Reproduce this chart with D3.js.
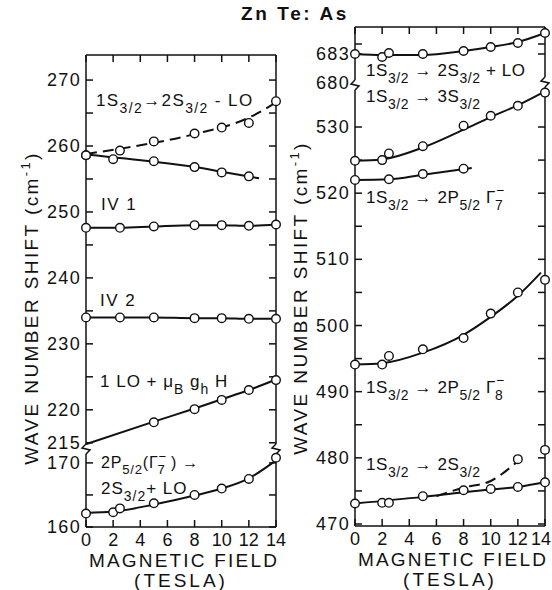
<!DOCTYPE html>
<html><head><meta charset="utf-8">
<script src="https://cdn.jsdelivr.net/npm/d3@7"></script>
<style>body{margin:0;background:#fff}svg{display:block}</style>
</head><body>
<svg id="c" width="552" height="590"></svg>
<script>
// ---------------- DATA ----------------
const xTicks = [0,2,4,6,8,10,12,14];
const xTickLabels = ["0","2","4","6","8","10","12","14"];

// Left panel, upper segment (cm^-1)
const lDashX = [0,2.5,5,8,10,12,14];
const lDashY = [258.6,259.3,260.7,261.9,262.8,263.5,266.8];
const lDashFitX = [0,4,8,12,14];
const lDashFitY = [258.8,260.1,261.8,264.3,266.6];
const lDownX = [0,2,5,8,10,12];
const lDownY = [258.6,258.0,257.7,256.8,256.0,255.4];
const lDownFitX = [0,5,8,10,12.75];
const lDownFitY = [258.7,257.6,256.8,256.1,255.1];
const iv1X = [0,2.5,5,8,10,12,14];
const iv1Y = [247.6,247.6,247.8,248.0,248.0,247.9,248.1];
const iv2X = [0,2.5,5,8,10,12,14];
const iv2Y = [234.0,234.0,234.0,233.9,233.9,233.8,233.8];
const loX = [5,8,10,12,14];
const loY = [218.1,220.1,221.5,223.0,224.5];
const loFitX = [0,5,8,10,12,14];
const loFitY = [214.8,218.2,220.2,221.6,223.0,224.6];
// Left panel, lower segment
const p7X = [0,2,2.5,5,8,10,12,14];
const p7Y = [162.1,162.3,162.9,163.7,165.0,166.0,167.5,170.8];
const p7FitX = [0,2,5,8,10,12,14];
const p7FitY = [162.2,162.4,163.5,164.9,166.0,167.6,170.4];

// Right panel, upper segment
const r683X = [0,2,2.5,5,8,10,12,14];
const r683Y = [683.0,682.7,683.1,683.0,683.3,683.7,684.1,685.1];
const r683FitX = [0,2,5,8,10,12,14];
const r683FitY = [683.0,682.9,682.9,683.3,683.7,684.2,685.1];
// Right panel, lower segment
const s3X = [0,2,2.5,5,8,10,12,14];
const s3Y = [524.9,525.0,526.0,527.1,530.2,531.7,533.2,535.2];
const s3FitX = [0,2,5,8,10,12,14];
const s3FitY = [524.9,525.1,526.9,529.6,531.5,533.3,535.4];
const g7X = [0,2.5,5,8];
const g7Y = [522.0,522.1,522.9,523.7];
const g7FitX = [0,2.5,5,8.6];
const g7FitY = [522.0,522.1,522.8,523.8];
const g8X = [0,2,2.5,5,8,10,12,14];
const g8Y = [494.1,494.1,495.4,496.4,498.1,501.8,505.0,506.9];
const g8FitX = [0,2,5,8,10,12,13.7];
const g8FitY = [494.1,494.3,495.9,498.6,501.3,504.5,508.0];
const s2X = [0,2,2.5,5,8,10,12,14];
const s2Y = [473.1,473.2,473.2,474.2,475.1,475.3,475.6,476.3];
const s2FitX = [0,5,8,10,12,14];
const s2FitY = [473.1,474.1,474.8,475.2,475.6,476.3];
const s2DashX = [12,14];
const s2DashY = [479.8,481.2];
const s2DashFitX = [6,8,10,11.6,12];
const s2DashFitY = [474.2,475.5,476.5,478.8,479.5];

const lUpperTicks = [215,220,225,230,235,240,245,250,255,260,265,270];
const lUpperLabels = [215,220,230,240,250,260,270];
const lLowerTicks = [160,165,170];
const lLowerLabels = [160,170];
const rUpperTicks = [683,684];
const rUpperLabels = [683];
const rLowerTicks = [470,475,480,485,490,495,500,505,510,515,520,525,530];
const rLowerLabels = [470,480,490,500,510,520,530];

// ---------------- DRAW ----------------
const svg = d3.select("#c");
const FONT = "'Liberation Sans', Arial, sans-serif";

const xL = d3.scaleLinear([0,14],[86,276]);
const xR = d3.scaleLinear([0,14],[355,545]);
const yLU = d3.scaleLinear([213.6,273.8],[452,55]);
const yLL = d3.scaleLinear([160,171.7],[527,452]);
const yRU = d3.scaleLinear([680,685.7],[84,27]);
const yRL = d3.scaleLinear([470,536.5],[524,84]);

const zip = (xs,ys)=>xs.map((x,i)=>[x,ys[i]]);

function curve(x,y,xs,ys,dash){
  const line = d3.line().x(d=>x(d[0])).y(d=>y(d[1])).curve(d3.curveMonotoneX);
  svg.append("path").attr("d",line(zip(xs,ys))).attr("fill","none")
    .attr("stroke","#111").attr("stroke-width",2)
    .attr("stroke-dasharray",dash?"11,6":null);
}
function pts(x,y,xs,ys){
  svg.append("g").selectAll("circle").data(zip(xs,ys)).join("circle")
    .attr("cx",d=>x(d[0])).attr("cy",d=>y(d[1])).attr("r",4.3)
    .attr("fill","#fff").attr("stroke","#111").attr("stroke-width",1.4);
}

// rich text: _{..} subscript, ^{..} superscript (a sub right after a sup is stacked)
function rich(x,y,str,size,ls){
  const t = svg.append("text").attr("x",x).attr("y",y)
    .attr("font-family",FONT).attr("font-size",size).attr("fill","#111")
    .attr("letter-spacing",ls==null?1:ls);
  const re = /([_^])\{([^}]*)\}|([^_^]+)/g; let m, shift=0, lastSup=null;
  while((m=re.exec(str))){
    if(m[3]!==undefined){
      t.append("tspan").attr("dy",-shift).attr("font-size",size).text(m[3]); shift=0; lastSup=null;
    } else {
      const s = m[1]==="_"? size*0.4 : -size*0.45;
      const sp = t.append("tspan").attr("dy",s-shift).attr("font-size",size*0.82).text(m[2]);
      if(m[1]==="_" && lastSup){
        sp.attr("dx",-lastSup.node().getComputedTextLength()-1);
      }
      lastSup = m[1]==="^"? sp : null;
      shift=s;
    }
  }
  return t;
}

function panel(x, yU, yL, breakYLeft, breakYRight, top, bottom, uT, uL, lT, lL, lastRight){
  const x0=x.range()[0], x1=x.range()[1];
  const g = svg.append("g").attr("stroke","#111").attr("stroke-width",1.5).attr("fill","none");
  g.append("line").attr("x1",x0).attr("x2",x1).attr("y1",top).attr("y2",top);
  g.append("line").attr("x1",x0).attr("x2",x1).attr("y1",bottom).attr("y2",bottom);
  [[x0,breakYLeft],[x1,breakYRight]].forEach(([xx,by])=>{
    g.append("line").attr("x1",xx).attr("x2",xx).attr("y1",top).attr("y2",by-5);
    g.append("line").attr("x1",xx).attr("x2",xx).attr("y1",by+5).attr("y2",bottom);
    g.append("path").attr("d",`M${xx},${by-5} L${xx-4},${by-1} L${xx+4},${by+1} L${xx},${by+5}`);
  });
  xTicks.forEach(v=>{
    g.append("line").attr("x1",x(v)).attr("x2",x(v)).attr("y1",top).attr("y2",top+7);
    g.append("line").attr("x1",x(v)).attr("x2",x(v)).attr("y1",bottom).attr("y2",bottom-7);
  });
  const yt = (y,ticks)=>ticks.forEach(v=>{
    g.append("line").attr("x1",x0).attr("x2",x0+7).attr("y1",y(v)).attr("y2",y(v));
    g.append("line").attr("x1",x1).attr("x2",x1-7).attr("y1",y(v)).attr("y2",y(v));
  });
  yt(yU,uT); yt(yL,lT);
  const lab = (y,labels)=>labels.forEach(v=>{
    svg.append("text").attr("x",x0-5).attr("y",y(v)+6).attr("text-anchor","end")
      .attr("font-family",FONT).attr("font-size",18).attr("letter-spacing",1.3).attr("fill","#111").text(v);
  });
  lab(yU,uL); lab(yL,lL);
  xTicks.forEach((v,i)=>{
    const last = lastRight && i===xTicks.length-1;
    svg.append("text").attr("x",last?551:x(v)).attr("y",bottom+19)
      .attr("text-anchor",last?"end":"middle")
      .attr("font-family",FONT).attr("font-size",18).attr("fill","#111").text(xTickLabels[i]);
  });
  const cx=(x0+x1)/2+3;
  svg.append("text").attr("x",cx).attr("y",bottom+40).attr("text-anchor","middle")
    .attr("font-family",FONT).attr("font-size",19).attr("letter-spacing",2.2).attr("fill","#111").text("MAGNETIC FIELD");
  svg.append("text").attr("x",cx-3).attr("y",bottom+60).attr("text-anchor","middle")
    .attr("font-family",FONT).attr("font-size",19).attr("letter-spacing",3).attr("fill","#111").text("(TESLA)");
}

panel(xL, yLU, yLL, 449, 449, 55, 527, lUpperTicks, lUpperLabels, lLowerTicks, lLowerLabels, false);
panel(xR, yRU, yRL, 85, 82, 27, 526, rUpperTicks, rUpperLabels, rLowerTicks, rLowerLabels, true);
svg.append("text").attr("x",350).attr("y",89).attr("text-anchor","end")
  .attr("font-family",FONT).attr("font-size",18).attr("letter-spacing",1.3).attr("fill","#111").text("680");

// y-axis titles
[[38,308],[307,298]].forEach(([x,y])=>{
  const t = svg.append("text").attr("transform",`translate(${x},${y}) rotate(-90)`)
    .attr("text-anchor","middle").attr("font-family",FONT).attr("font-size",19)
    .attr("letter-spacing",2.4).attr("fill","#111");
  t.append("tspan").text("WAVE NUMBER SHIFT (cm");
  t.append("tspan").attr("dy",-8).attr("font-size",13).text("-1");
  t.append("tspan").attr("dy",8).text(")");
});

// title
svg.append("text").attr("x",295).attr("y",20).attr("text-anchor","middle")
  .attr("font-family",FONT).attr("font-size",19).attr("font-weight","bold")
  .attr("letter-spacing",2.6).attr("fill","#111").text("Zn Te: As");

// curves & points - left
curve(xL,yLU,lDashFitX,lDashFitY,true);
curve(xL,yLU,lDownFitX,lDownFitY,false);
curve(xL,yLU,iv1X,iv1Y,false);
curve(xL,yLU,iv2X,iv2Y,false);
curve(xL,yLU,loFitX,loFitY,false);
curve(xL,yLL,p7FitX,p7FitY,false);
pts(xL,yLU,lDashX,lDashY); pts(xL,yLU,lDownX,lDownY);
pts(xL,yLU,iv1X,iv1Y); pts(xL,yLU,iv2X,iv2Y); pts(xL,yLU,loX,loY);
pts(xL,yLL,p7X,p7Y);
// right
curve(xR,yRU,r683FitX,r683FitY,false);
curve(xR,yRL,s3FitX,s3FitY,false);
curve(xR,yRL,g7FitX,g7FitY,false);
curve(xR,yRL,g8FitX,g8FitY,false);
curve(xR,yRL,s2FitX,s2FitY,false);
curve(xR,yRL,s2DashFitX,s2DashFitY,true);
pts(xR,yRU,r683X,r683Y); pts(xR,yRL,s3X,s3Y); pts(xR,yRL,g7X,g7Y);
pts(xR,yRL,g8X,g8Y); pts(xR,yRL,s2X,s2Y); pts(xR,yRL,s2DashX,s2DashY);

// annotations
rich(96,106,"1S_{3/2}→2S_{3/2} - LO",17,1.4);
rich(101,210,"IV 1",17,1.5);
rich(100,306,"IV 2",17,1.5);
rich(100,387,"1 LO + μ_{B} g_{h} H",17,1);
rich(101,468,"2P_{5/2}(Γ^{−}_{7} ) →",16,0.8);
rich(101,494,"2S_{3/2}+ LO",17,1);
rich(366,76,"1S_{3/2} → 2S_{3/2} + LO",17,0.6);
rich(366,102,"1S_{3/2} → 3S_{3/2}",17,0.6);
rich(366,203,"1S_{3/2} → 2P_{5/2}  Γ^{−}_{7}",17,0.6);
rich(366,393,"1S_{3/2} → 2P_{5/2}  Γ^{−}_{8}",17,0.6);
rich(366,470,"1S_{3/2} → 2S_{3/2}",17,0.6);
</script>
</body></html>
